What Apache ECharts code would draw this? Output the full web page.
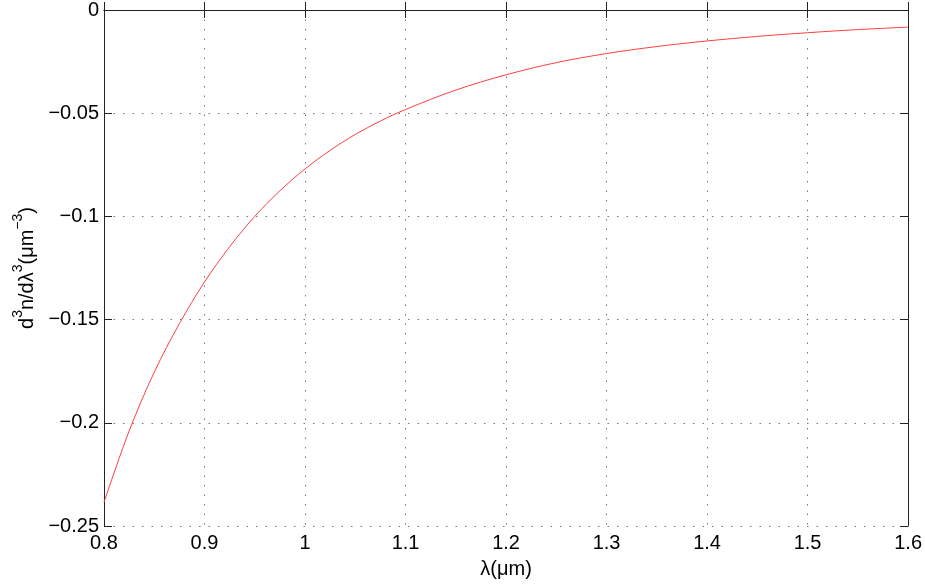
<!DOCTYPE html>
<html lang="en">
<head>
  <meta charset="UTF-8">
  <title>d3n/dλ3</title>
  <style>
    * { margin: 0; padding: 0; }
    body { background: #fff; }
    #main { width: 925px; height: 587px; }
  </style>
</head>
<body>
  <div id="main"></div>
  <script src="https://cdn.jsdelivr.net/npm/echarts@6/dist/echarts.min.js"></script>
  <script>
    // wavelength (um) and third derivative
    var lambda = [0.8, 0.825, 0.85, 0.875, 0.9, 0.925, 0.95, 0.975, 1.0, 1.025, 1.05, 1.075,
                  1.1, 1.15, 1.2, 1.25, 1.3, 1.35, 1.4, 1.45, 1.5, 1.55, 1.6];
    var d3n = [-0.2385, -0.2040, -0.1755, -0.1520, -0.1318, -0.1147, -0.1000, -0.0876, -0.0770,
               -0.0680, -0.0603, -0.0538, -0.0482, -0.0388, -0.0314, -0.0255, -0.0211, -0.0177,
               -0.0150, -0.0128, -0.0110, -0.0095, -0.0083];

    var xTicks = ['0.8', '0.9', '1', '1.1', '1.2', '1.3', '1.4', '1.5', '1.6'];
    var yTicks = ['\u22120.25', '\u22120.2', '\u22120.15', '\u22120.1', '\u22120.05', '0'];

    var font = 'Liberation Sans, Arial, Helvetica, sans-serif';

    function pick(list, v, min, step) {
      var i = Math.round((v - min) / step);
      return list[i] !== undefined ? list[i] : '';
    }

    var myChart = echarts.init(document.getElementById('main'));

    var frameLine = { show: true, lineStyle: { color: '#222', width: 1 } };
    var inTick = { show: true, inside: true, length: 8, lineStyle: { color: '#222', width: 1 } };
    var dotGrid = { show: true, lineStyle: { color: '#777', width: 1, type: [1.5, 8] } };

    var option = {
      animation: false,
      backgroundColor: '#fff',
      grid: { left: 104, right: 16, top: 9, bottom: 61, containLabel: false },
      xAxis: [{
        type: 'value', min: 0.8, max: 1.6, interval: 0.1,
        position: 'bottom',
        name: '\u03bb(\u03bcm)', nameLocation: 'middle', nameGap: 33,
        nameTextStyle: { fontFamily: font, fontSize: 20, color: '#000' },
        axisLine: frameLine, axisTick: inTick, splitLine: dotGrid,
        axisLabel: {
          fontFamily: font, fontSize: 20, color: '#000', margin: 7,
          formatter: function (v) { return pick(xTicks, v, 0.8, 0.1); }
        }
      }, {
        type: 'value', min: 0.8, max: 1.6, interval: 0.1,
        position: 'top',
        axisLine: frameLine, axisTick: inTick, splitLine: { show: false },
        axisLabel: { show: false }
      }],
      yAxis: [{
        type: 'value', min: -0.25, max: 0, interval: 0.05,
        position: 'left',
        name: '{a|d}{s|3}{a|n/d\u03bb}{s|3}{a|(\u03bcm}{s|\u22123}{a|)}',
        nameLocation: 'middle', nameGap: 60, nameRotate: 90,
        nameTextStyle: {
          fontFamily: font, color: '#000',
          rich: {
            a: { fontFamily: font, fontSize: 20, color: '#000', lineHeight: 26, verticalAlign: 'bottom' },
            s: { fontFamily: font, fontSize: 14, color: '#000', lineHeight: 26, verticalAlign: 'top' }
          }
        },
        axisLine: frameLine, axisTick: inTick, splitLine: dotGrid,
        axisLabel: {
          fontFamily: font, fontSize: 20, color: '#000', margin: 5,
          formatter: function (v) { return pick(yTicks, v, -0.25, 0.05); }
        }
      }, {
        type: 'value', min: -0.25, max: 0, interval: 0.05,
        position: 'right',
        axisLine: frameLine, axisTick: inTick, splitLine: { show: false },
        axisLabel: { show: false }
      }],
      series: [{
        type: 'line',
        xAxisIndex: 0, yAxisIndex: 0,
        data: lambda.map(function (x, i) { return [x, d3n[i]]; }),
        smooth: 0.35,
        symbol: 'none',
        lineStyle: { color: '#ff4040', width: 1 }
      }]
    };

    myChart.setOption(option);
  </script>
</body>
</html>
